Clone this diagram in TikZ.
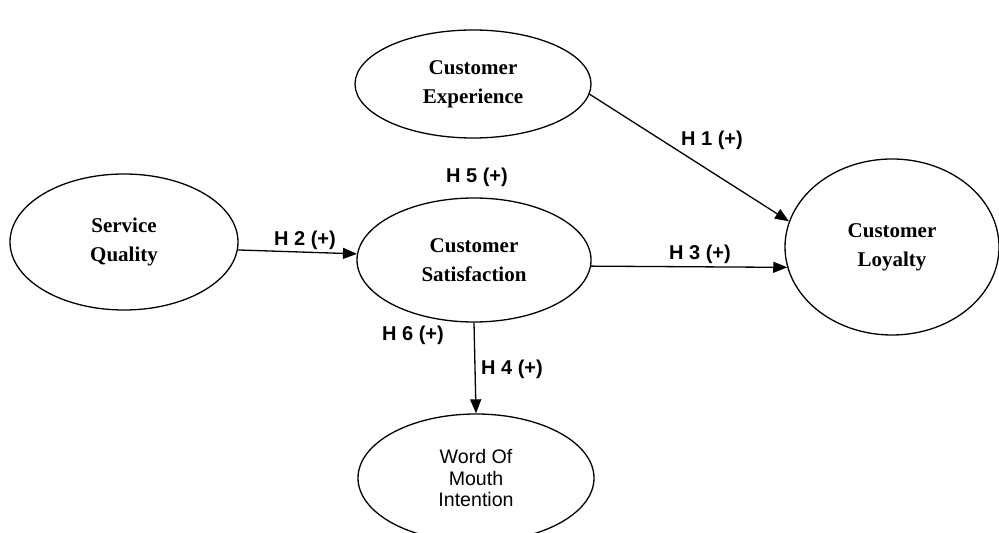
\documentclass[tikz,border=0pt]{standalone}
\usepackage{fontspec}
\setmainfont{Liberation Serif}
\newfontfamily\hfont{Liberation Sans}
\usetikzlibrary{shapes.geometric,arrows.meta}
\tikzset{
  construct/.style={draw,ellipse,line width=0.65pt,inner sep=0pt,align=center,
    font=\fontsize{10.5}{14.5}\selectfont\bfseries},
  hlabel/.style={font=\hfont\bfseries\fontsize{10}{12}\selectfont,inner sep=0pt},
  link/.style={-{Triangle[length=7pt,width=5.5pt]},line width=0.65pt}
}
\begin{document}
\begin{tikzpicture}[x=0.5pt,y=-0.5pt]
			\useasboundingbox (0,0) rectangle (999,533);
			% constructs
			\node[construct,minimum width=118pt,minimum height=54pt] (ce) at (473,84) {Customer\\Experience};
			\node[construct,minimum width=114pt,minimum height=68pt] (sq) at (124,242) {Service\\Quality};
			\node[construct,minimum width=117pt,minimum height=62pt] (cs) at (474,260) {Customer\\Satisfaction};
			\node[construct,minimum width=107pt,minimum height=88pt] (cl) at (892,247) {Customer\\Loyalty};
			\node[construct,minimum width=118pt,minimum height=64pt,
			      font=\hfont\fontsize{9.8}{10.8}\selectfont] (wom) at (476,478) {Word Of\\Mouth\\Intention};
			% paths
			\draw[link] (ce.-5) -- (cl.166);
			\draw[link] (sq.-4) -- (cs.177);
			\draw[link] (cs.-3) -- (cl.191);
			\draw[link] (cs.south) -- (wom.north);
			% hypotheses
			\node[hlabel] (h1) at (712,140) {H 1 (+)};
			\node[hlabel] (h2) at (305,240) {H 2 (+)};
			\node[hlabel] (h3) at (700,254) {H 3 (+)};
			\node[hlabel] (h4) at (512,369) {H 4 (+)};
			\node[hlabel] (h5) at (477,177) {H 5 (+)};
			\node[hlabel] (h6) at (413,335) {H 6 (+)};
		\end{tikzpicture}
\end{document}
